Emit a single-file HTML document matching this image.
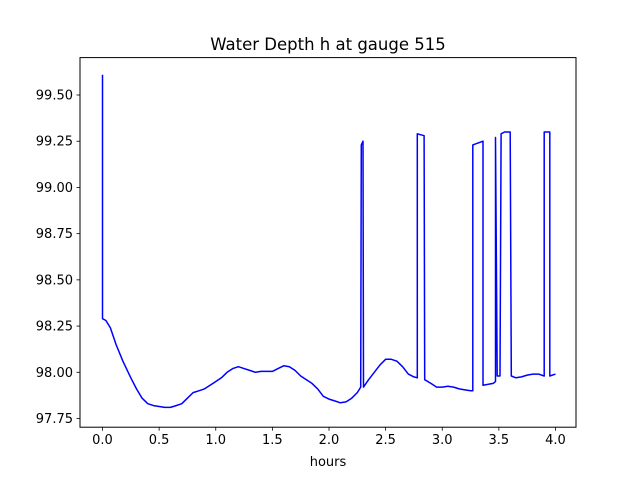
<!DOCTYPE html>
<html><head><meta charset="utf-8"><style>
body{margin:0;background:#fff;}
svg{display:block;font-family:"DejaVu Sans","Liberation Sans",sans-serif;}
</style></head><body>
<svg id="chart" width="640" height="480"></svg>
<script>
const times=[0,0,0.03,0.07,0.12,0.18,0.25,0.3,0.35,0.4,0.45,0.5,0.55,0.6,0.65,0.7,0.75,0.8,0.85,0.9,0.95,1.0,1.05,1.1,1.15,1.2,1.25,1.3,1.35,1.4,1.5,1.55,1.6,1.65,1.7,1.75,1.8,1.85,1.9,1.95,2.0,2.05,2.1,2.15,2.2,2.25,2.28,2.285,2.3,2.305,2.35,2.4,2.45,2.5,2.55,2.6,2.65,2.7,2.75,2.78,2.78,2.84,2.845,2.9,2.95,3.0,3.05,3.1,3.15,3.2,3.25,3.27,3.27,3.36,3.36,3.45,3.47,3.47,3.485,3.51,3.52,3.55,3.6,3.61,3.65,3.7,3.75,3.8,3.85,3.9,3.9,3.95,3.95,4.0];
const depths=[99.61,98.29,98.28,98.24,98.15,98.06,97.97,97.91,97.86,97.83,97.82,97.815,97.81,97.81,97.82,97.83,97.86,97.89,97.9,97.91,97.93,97.95,97.97,98.0,98.02,98.03,98.02,98.01,98.0,98.005,98.005,98.02,98.035,98.03,98.01,97.98,97.96,97.94,97.91,97.87,97.855,97.845,97.835,97.84,97.86,97.89,97.92,99.23,99.25,97.92,97.96,98.0,98.04,98.07,98.07,98.06,98.03,97.99,97.975,97.97,99.29,99.28,97.96,97.94,97.92,97.92,97.925,97.92,97.91,97.905,97.9,97.9,99.23,99.25,97.93,97.94,97.95,99.27,97.98,97.98,99.29,99.3,99.3,97.98,97.97,97.975,97.985,97.99,97.99,97.98,99.3,99.3,97.98,97.99];
const xTicks=[0,0.5,1,1.5,2,2.5,3,3.5,4];
const xTickLabels=["0.0","0.5","1.0","1.5","2.0","2.5","3.0","3.5","4.0"];
const yTicks=[97.75,98,98.25,98.5,98.75,99,99.25,99.5];
const yTickLabels=["97.75","98.00","98.25","98.50","98.75","99.00","99.25","99.50"];

const NS="http://www.w3.org/2000/svg";
const svg=document.getElementById('chart');
const L=80,R=576,T=57.6,B=427.2;
const X=t=>102.5+t*113.25;
const Y=v=>95+(99.5-v)*184.86;
function mk(tag,attrs,parent){const e=document.createElementNS(NS,tag);for(const k in attrs)e.setAttribute(k,attrs[k]);(parent||svg).appendChild(e);return e;}

const title=mk('text',{x:328,y:50,'text-anchor':'middle','font-size':16.5,fill:'#000'});


title.textContent='Water Depth h at gauge 515';

const pts=times.map((t,i)=>X(t).toFixed(1)+','+Y(depths[i]).toFixed(1)).join(' ');
const line=mk('polyline',{points:pts,fill:'none',stroke:'#0000ff','stroke-width':1.5,'stroke-linejoin':'round'});



const frame=mk('rect',{x:L,y:T,width:R-L,height:B-T,fill:'none',stroke:'#000','stroke-width':1});



xTicks.forEach((t,i)=>{
  const tk=mk('line',{x1:X(t),x2:X(t),y1:B,y2:B+3.5,stroke:'#000','stroke-width':0.8});
  
  
  const lb=mk('text',{x:X(t),y:B+17,'text-anchor':'middle','font-size':13,fill:'#000'});
  
  
  lb.textContent=xTickLabels[i];
});
yTicks.forEach((v,i)=>{
  const tk=mk('line',{x1:L-3.5,x2:L,y1:Y(v),y2:Y(v),stroke:'#000','stroke-width':0.8});
  
  
  const lb=mk('text',{x:L-7,y:Y(v)+4.5,'text-anchor':'end','font-size':13,fill:'#000'});
  
  
  lb.textContent=yTickLabels[i];
});
const xl=mk('text',{x:328,y:466,'text-anchor':'middle','font-size':13,fill:'#000'});


xl.textContent='hours';
</script>
</body></html>
